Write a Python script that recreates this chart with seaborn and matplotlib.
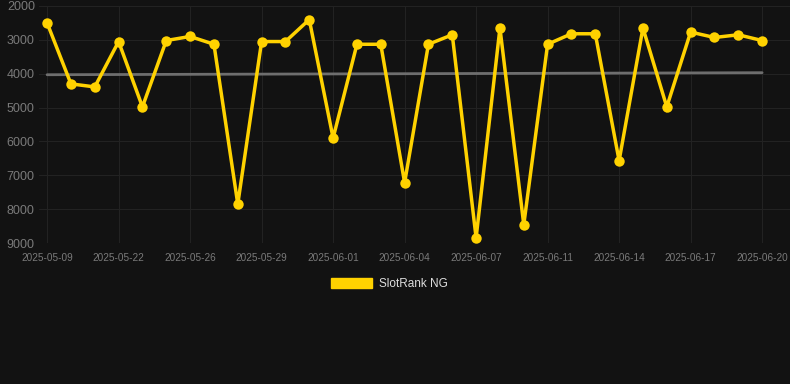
import numpy as np
import pandas as pd
import matplotlib
matplotlib.use("Agg")
import matplotlib.pyplot as plt
import seaborn as sns
from matplotlib.patches import Patch

dates = ["2025-05-09", "2025-05-20", "2025-05-21", "2025-05-22", "2025-05-23",
         "2025-05-25", "2025-05-26", "2025-05-27", "2025-05-28", "2025-05-29",
         "2025-05-30", "2025-05-31", "2025-06-01", "2025-06-02", "2025-06-03",
         "2025-06-04", "2025-06-05", "2025-06-06", "2025-06-07", "2025-06-08",
         "2025-06-10", "2025-06-11", "2025-06-12", "2025-06-13", "2025-06-14",
         "2025-06-15", "2025-06-16", "2025-06-17", "2025-06-18", "2025-06-19",
         "2025-06-20"]
rank = [2500, 4300, 4390, 3050, 4980, 3020, 2900, 3130, 7850, 3050,
        3050, 2400, 5900, 3130, 3130, 7220, 3130, 2850, 8850, 2650,
        8460, 3130, 2820, 2820, 6570, 2650, 4980, 2770, 2930, 2850,
        3020]
trend_x = [0, 30]
trend_y = [4030, 3970]

BG = "#121212"
GOLD = "#FFD200"

df = pd.DataFrame({"date": dates, "rank": rank})
df["pos"] = np.arange(len(df))

sns.set_theme(style="dark")
plt.rcParams["font.family"] = ["Liberation Sans", "DejaVu Sans"]

fig = plt.figure(figsize=(7.9, 3.84), dpi=100, facecolor=BG)
ax = fig.add_axes([39 / 790, 1 - 243 / 384, 1 - 39 / 790, (243 - 6) / 384])
ax.set_facecolor(BG)

sns.lineplot(x=trend_x, y=trend_y, color="#6e6e6e", linewidth=2, ax=ax)
sns.lineplot(data=df, x="pos", y="rank", color=GOLD, linewidth=2.5,
             marker="o", markersize=7.5, markeredgewidth=0, ax=ax)
for ln in ax.get_lines():
    ln.set_solid_joinstyle("miter")

ax.set_ylim(9000, 2000)
ax.set_xlim(-0.34, 31.17)
ax.set_yticks(range(2000, 9001, 1000))
ticks = df["pos"][::3]
ax.set_xticks(ticks)
ax.set_xticklabels(df["date"][::3])
ax.tick_params(axis="y", colors="#7a7a7a", labelsize=9, length=0, pad=3)
ax.tick_params(axis="x", colors="#7a7a7a", labelsize=7.2, length=0, pad=7)
ax.grid(True, color="#222222", linewidth=0.8)
ax.set_axisbelow(True)
for s in ax.spines.values():
    s.set_visible(False)
ax.set_xlabel("")
ax.set_ylabel("")

fig.legend(handles=[Patch(facecolor=GOLD, edgecolor=GOLD, label="SlotRank NG")],
           loc="center", bbox_to_anchor=(389.5 / 790, 1 - 284 / 384), frameon=False,
           handlelength=3.4, handleheight=1.0, handletextpad=0.6,
           fontsize=8.5, labelcolor="#dddddd")

fig.savefig("out.png", dpi=100, facecolor=BG)
